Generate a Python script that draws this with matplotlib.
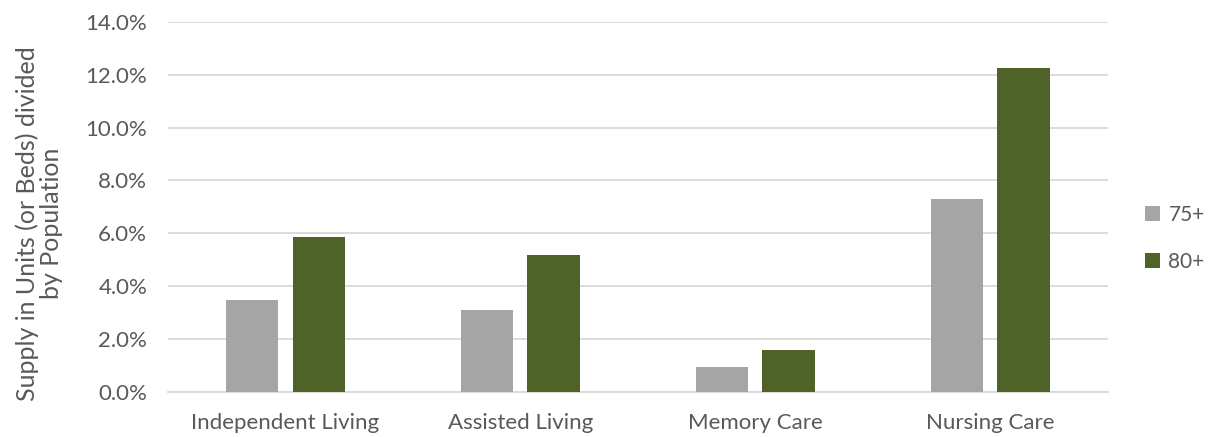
import numpy as np
import matplotlib
matplotlib.use('Agg')
import matplotlib.pyplot as plt
from matplotlib.ticker import PercentFormatter

categories = ['Independent Living', 'Assisted Living', 'Memory Care', 'Nursing Care']
ratio_75 = [3.49, 3.10, 0.94, 7.30]
ratio_80 = [5.86, 5.19, 1.58, 12.25]
series_labels = ['75+', '80+']

plt.rcParams['font.family'] = ['Lato', 'DejaVu Sans']
text_color = '#595959'

fig = plt.figure(figsize=(12.12, 4.37), dpi=100)
ax = fig.add_axes([0.1386, 0.103, 0.7755, 0.847])

x = np.arange(len(categories))
width = 0.222
gap = 0.03
ax.bar(x - width / 2 - gap, ratio_75, width, color='#A5A5A5', label=series_labels[0], zorder=3)
ax.bar(x + width / 2 + gap, ratio_80, width, color='#4F6228', label=series_labels[1], zorder=3)

ax.set_xlim(-0.5, len(categories) - 0.5)
ax.set_ylim(0, 14)
ax.set_yticks(np.arange(0, 14.1, 2))
ax.yaxis.set_major_formatter(PercentFormatter(decimals=1))
ax.set_xticks(x)
ax.set_xticklabels(categories)

ax.grid(axis='y', color='#D9D9D9', linewidth=1.3, zorder=0)
for side in ['top', 'right', 'left']:
    ax.spines[side].set_visible(False)
ax.spines['bottom'].set_color('#D9D9D9')
ax.spines['bottom'].set_linewidth(1.3)
ax.tick_params(axis='both', length=0, labelsize=16, colors=text_color)
ax.tick_params(axis='y', pad=15)
ax.tick_params(axis='x', pad=15)

ax.set_ylabel('Supply in Units (or Beds) divided\nby Population', fontsize=18,
              color=text_color, linespacing=1.05)
ax.yaxis.set_label_coords(-0.112, 0.455)

leg = ax.legend(loc='center left', bbox_to_anchor=(1.04, 0.415), frameon=False,
                fontsize=15, handlelength=0.7, handleheight=0.7,
                labelspacing=1.3, handletextpad=0.4, borderaxespad=0, borderpad=0)
for t in leg.get_texts():
    t.set_color(text_color)

fig.savefig('out.png', dpi=100)
